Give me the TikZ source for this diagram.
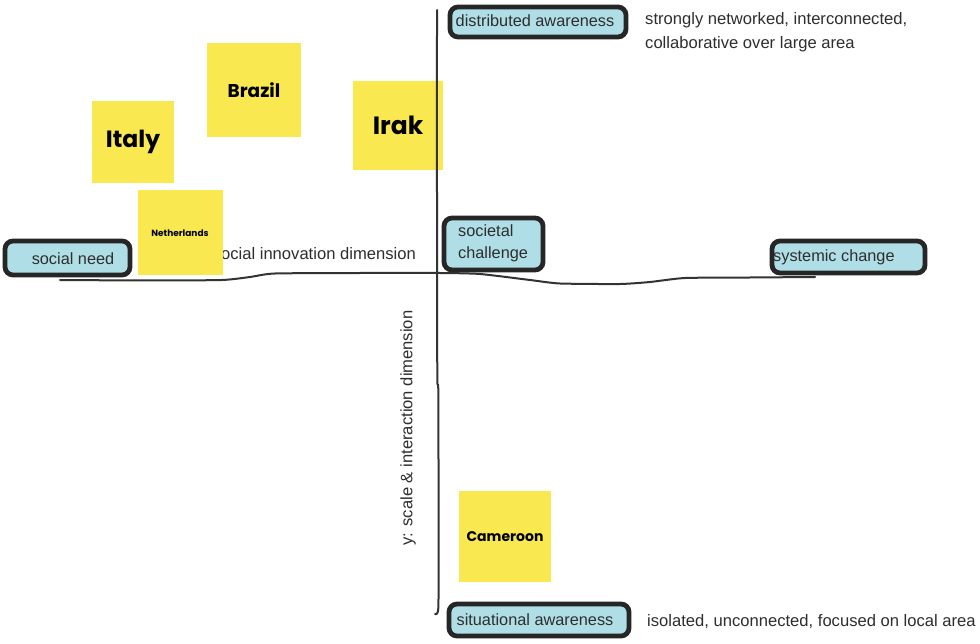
\documentclass[tikz,border=0pt]{standalone}
\usepackage{fontspec}
\setmainfont{Liberation Sans}
\newfontfamily\notefont{Poppins}
\definecolor{boxfill}{HTML}{AFDEE6}
\definecolor{boxline}{HTML}{262626}
\definecolor{notey}{HTML}{F9E84F}
\definecolor{axisc}{HTML}{333333}
\definecolor{txt}{HTML}{2E2E2E}
\tikzset{
  axisline/.style={draw=axisc, line width=2pt, line cap=round, line join=round},
  cbox/.style={draw=boxline, fill=boxfill, line width=4.8pt, rounded corners=8pt, inner sep=0pt},
  btext/.style={font=\fontsize{16.3}{22}\selectfont, text=txt, inner sep=0pt, align=left},
  sidetext/.style={font=\fontsize{16.6}{24}\selectfont, text=txt, inner sep=0pt, align=left},
  note/.style={fill=notey, inner sep=0pt, font=\notefont\bfseries, text=black},
}
\begin{document}
\begin{tikzpicture}[x=1pt,y=-1pt]
\useasboundingbox (0,0) rectangle (980,644);
\fill[white] (0,0) rectangle (980,644);

% axis labels (x label partly covered by Netherlands note)
\node[sidetext, anchor=east] (xlab) at (416,254) {x: social innovation dimension};
\node[sidetext, rotate=90] (ylab) at (408,428) {y: scale \& interaction dimension};

% horizontal axis
\coordinate (xl) at (60,280);
\coordinate (xr) at (815,277);
\draw[axisline] plot[smooth, tension=0.35] coordinates {(xl) (150,280.5) (222,280) (250,277) (275,273.5) (360,273) (440,273) (480,274) (530,280) (560,283.5) (620,284) (650,282) (685,278) (750,277.5) (xr)};

% sticky note behind the vertical axis
\node[note, minimum width=90, minimum height=89, font=\notefont\bfseries\fontsize{25}{25}\selectfont] (irak) at (398,125.5) {Irak};

% vertical axis
\coordinate (yt) at (437,10);
\coordinate (yb) at (435,614);
\draw[axisline] plot[smooth, tension=0.4] coordinates {(yt) (437,200) (437.3,375) (438.3,392) (438.6,540) (438.3,608) (yb)};

\node[note, minimum width=94, minimum height=94, font=\notefont\bfseries\fontsize{18.5}{18.5}\selectfont] (brazil) at (254,90) {Brazil};
\node[note, minimum width=82, minimum height=82, font=\notefont\bfseries\fontsize{23.5}{23.5}\selectfont] (italy) at (133,142) {Italy};
\node[note, minimum width=85, minimum height=85, font=\notefont\bfseries\fontsize{9}{9}\selectfont] (neth) at (180,232.5) {};
\node[note, font=\notefont\bfseries\fontsize{9}{9}\selectfont, fill=none] (nethT) at (180,233) {Netherlands};
\node[note, minimum width=92, minimum height=91, font=\notefont\bfseries\fontsize{14}{14}\selectfont] (cam) at (505,536.5) {Cameroon};

% boxes
\node[cbox, minimum width=176, minimum height=30] (dist) at (538,22) {};
\node[btext] (distT) at (535,21) {distributed awareness};
\node[cbox, minimum width=125, minimum height=34] (need) at (67.5,258) {};
\node[btext] (needT) at (73,259) {social need};
\node[cbox, minimum width=99, minimum height=52] (soc) at (493.5,244) {};
\node[btext, anchor=west] (socT) at (458,243) {societal\\challenge};
\node[cbox, minimum width=153, minimum height=32] (sys) at (848.5,257) {};
\node[btext, anchor=west] (sysT) at (773,257) {systemic change};
\node[cbox, minimum width=180, minimum height=32] (sit) at (539,620) {};
\node[btext] (sitT) at (535,619.5) {situational awareness};

% side descriptions
\node[sidetext, anchor=north west] (distD) at (645,12) {strongly networked, interconnected,\\collaborative over large area};
\node[sidetext, anchor=west] (sitD) at (647,622) {isolated, unconnected, focused on local area};
\end{tikzpicture}
\end{document}
